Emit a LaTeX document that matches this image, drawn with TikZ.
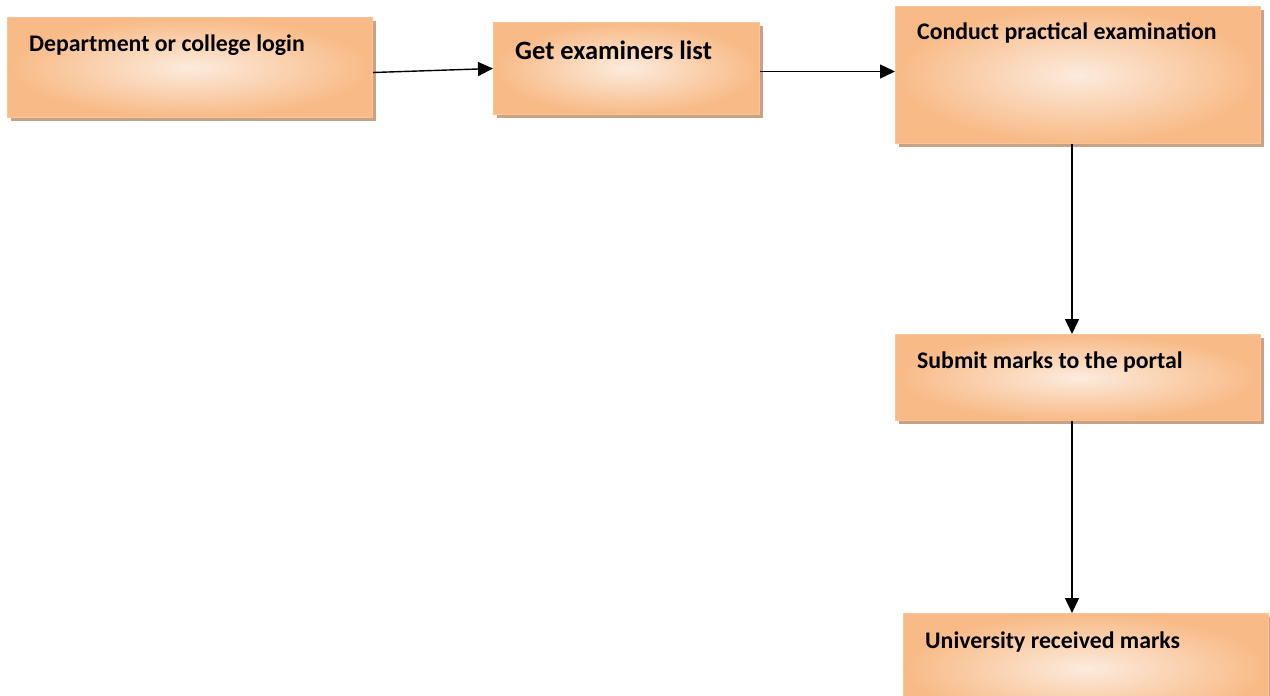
\documentclass[tikz,border=0pt]{standalone}
\usepackage{fontspec}
\setmainfont{Carlito}
\usetikzlibrary{arrows.meta,shadows}
\definecolor{boxorange}{HTML}{F8BA86}
\definecolor{boxlight}{HTML}{FCEBDD}
\definecolor{boxedge}{HTML}{F9C497}
\definecolor{shadowc}{HTML}{C9A184}
\tikzset{
  box/.style={rectangle, draw=boxedge, line width=1pt, inner sep=0pt,
    shading=radial, inner color=boxlight, outer color=boxorange,
    drop shadow={shadow xshift=3pt, shadow yshift=-3pt, fill=shadowc, opacity=1},
    anchor=north west},
  txt/.style={anchor=west, inner sep=0pt, font=\bfseries\fontsize{23.8}{28}\selectfont},
  bigtxt/.style={txt, font=\bfseries\fontsize{26.5}{30}\selectfont},
  arr/.style={draw=black, line width=1.4pt, -{Triangle[length=15pt,width=14pt]}}
}
\begin{document}
\begin{tikzpicture}[x=1pt,y=-1pt]
\useasboundingbox (0,0) rectangle (1270,696);
\clip (0,0) rectangle (1270,696);
\node[box, minimum width=365pt, minimum height=100pt] (b1) at (7,17) {};
\node[box, minimum width=266pt, minimum height=92pt] (b2) at (493,22) {};
\node[box, minimum width=365pt, minimum height=137pt] (b3) at (895,6) {};
\node[box, minimum width=365pt, minimum height=86pt] (b4) at (895,334) {};
\node[box, minimum width=365pt, minimum height=110pt] (b5) at (903,613) {};
\node[txt] (t1) at (29,45) {Department or college login};
\node[bigtxt] (t2) at (515,50) {Get examiners list};
\node[txt] (t3) at (917,33) {Conduct practical examination};
\node[txt] (t4) at (917,362) {Submit marks to the portal};
\node[txt] (t5) at (925,642) {University received marks};
\draw[arr] ([yshift=-5pt]b1.east) -- (b2.west);
\draw[arr] ([yshift=-3pt]b2.east) -- ([yshift=-3pt]b2.east -| b3.west);
\draw[arr] ([xshift=-6pt]b3.south) -- ([xshift=-6pt]b3.south |- b4.north);
\draw[arr] ([xshift=-6pt]b4.south) -- ([xshift=-6pt]b4.south |- b5.north);
\end{tikzpicture}
\end{document}
